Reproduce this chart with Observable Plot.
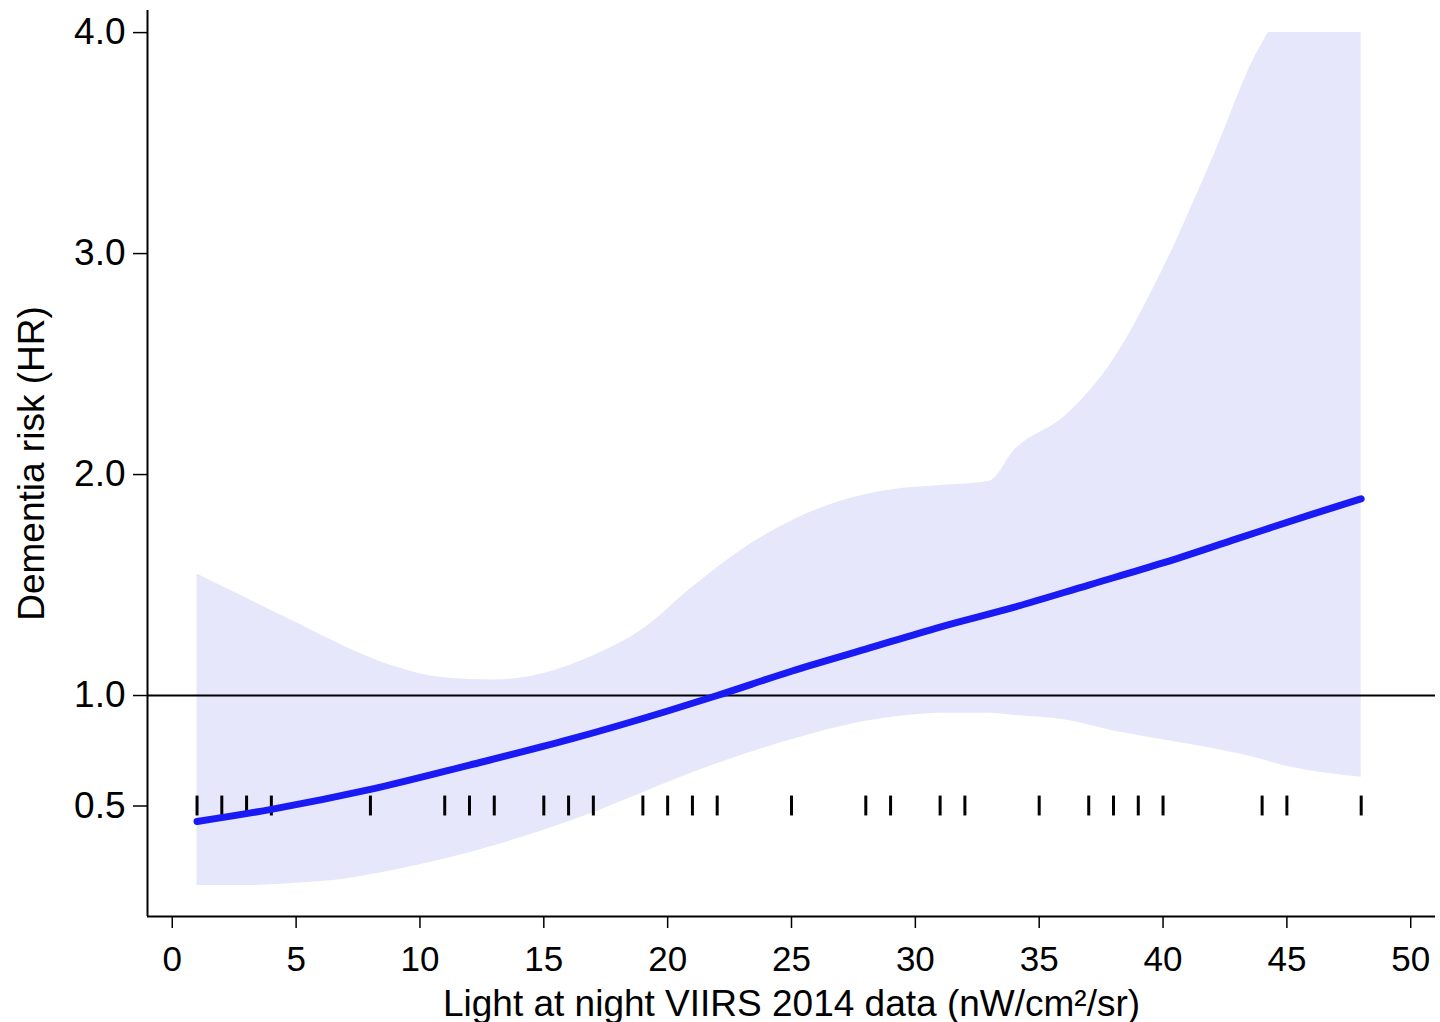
<!DOCTYPE html>
<html>
<head>
<meta charset="utf-8">
<script src="https://cdn.jsdelivr.net/npm/d3@7"></script>
<script src="https://cdn.jsdelivr.net/npm/@observablehq/plot@0.6"></script>
<style>
  html, body { margin: 0; padding: 0; background: #fff; }
  #chart svg { display: block; }
</style>
</head>
<body>
<div id="chart"></div>
<script>
// Confidence band
const bandX     = [1, 3, 5, 7, 9, 11, 13, 15, 17, 19, 21, 23, 25, 27, 29, 31, 33, 34, 36, 38, 40, 42, 44, 44.3, 48];
const bandLower = [0.14, 0.14, 0.15, 0.17, 0.21, 0.26, 0.32, 0.39, 0.47, 0.56, 0.65, 0.73, 0.80, 0.86, 0.90, 0.92, 0.92, 0.91, 0.89, 0.84, 0.80, 0.76, 0.71, 0.70, 0.63];
const bandUpper = [1.55, 1.44, 1.33, 1.22, 1.13, 1.08, 1.07, 1.10, 1.18, 1.30, 1.49, 1.66, 1.79, 1.88, 1.93, 1.95, 1.97, 2.11, 2.26, 2.52, 2.93, 3.43, 3.95, 4.0, 4.0];

// Estimated hazard ratio curve
const curveX = [1, 4, 8, 12, 16, 20, 22, 25, 28, 31, 34, 37, 40, 43, 46, 48];
const curveY = [0.43, 0.485, 0.575, 0.685, 0.80, 0.93, 1.0, 1.11, 1.21, 1.31, 1.40, 1.50, 1.60, 1.71, 1.82, 1.89];

// Rug of observed exposure values
const rugX = [1, 2, 3, 4, 8, 11, 12, 13, 15, 16, 17, 19, 20, 21, 22, 25, 28, 29, 31, 32, 35, 37, 38, 39, 40, 44, 45, 48];

// Tick labels
const xTicks = [0, 5, 10, 15, 20, 25, 30, 35, 40, 45, 50];
const yTicks = [0.5, 1.0, 2.0, 3.0, 4.0];

const band = bandX.map((x, i) => ({x, lo: bandLower[i], hi: bandUpper[i]}));
const curve = curveX.map((x, i) => ({x, y: curveY[i]}));

const font = "'Liberation Sans', Arial, Helvetica, sans-serif";

const chart = Plot.plot({
  width: 1440,
  height: 1022,
  marginLeft: 147,
  marginRight: 5,
  marginTop: 10,
  marginBottom: 106,
  style: {fontFamily: font, color: "#000", background: "#fff", overflow: "visible"},
  x: {domain: [-1, 51]},
  y: {domain: [0, 4.1]},
  marks: [
    Plot.areaY(band, {x: "x", y1: "lo", y2: "hi", fill: "#e7e7fb", fillOpacity: 1, curve: "monotone-x"}),
    Plot.ruleY([1], {stroke: "#000", strokeWidth: 2}),
    Plot.ruleX(rugX, {y1: 0.455, y2: 0.545, stroke: "#000", strokeWidth: 3}),
    Plot.line(curve, {x: "x", y: "y", stroke: "#1a1af5", strokeWidth: 7, curve: "monotone-x"}),
    Plot.ruleX([-1], {stroke: "#000", strokeWidth: 2}),
    Plot.ruleY([0], {stroke: "#000", strokeWidth: 2}),
    Plot.axisY(yTicks, {
      tickSize: 14, tickPadding: 8, tickFormat: d3.format(".1f"),
      fontSize: 37, strokeWidth: 1.5,
      label: "Dementia risk (HR)", labelAnchor: "center", labelOffset: 130, labelArrow: "none"
    }),
    Plot.axisX(xTicks, {
      tickSize: 12, tickPadding: 18, tickFormat: d3.format("d"),
      fontSize: 35, strokeWidth: 1.5,
      label: "Light at night VIIRS 2014 data (nW/cm²/sr)", labelAnchor: "center", labelOffset: 99, labelArrow: "none"
    })
  ]
});

// Axis titles slightly larger than tick labels, as in the reference
chart.querySelectorAll("[aria-label='x-axis label'] text, [aria-label='y-axis label'] text").forEach(t => t.setAttribute("font-size", 37));

document.getElementById("chart").appendChild(chart);
</script>
</body>
</html>
